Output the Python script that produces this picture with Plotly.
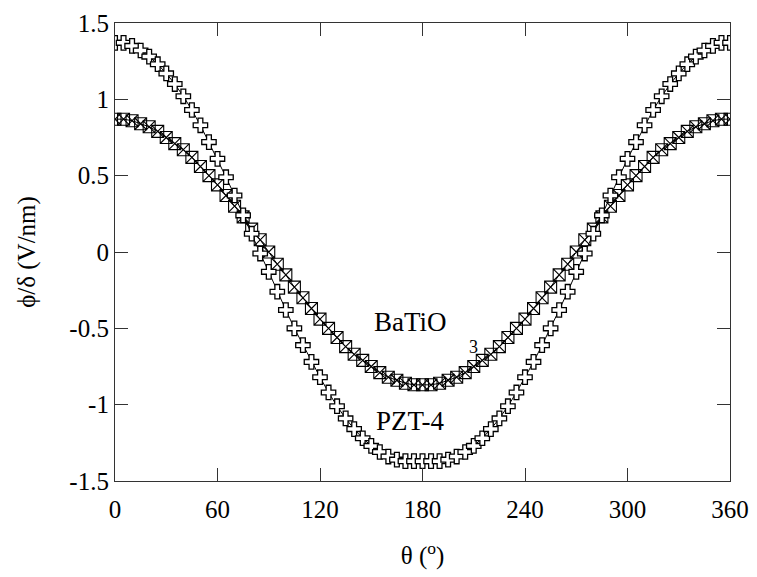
import plotly.graph_objects as go

theta = list(range(0, 361, 5))

pzt4 = [1.37, 1.37, 1.35, 1.32, 1.28, 1.23, 1.17, 1.10, 1.02, 0.93, 0.83, 0.72, 0.61,
        0.49, 0.37, 0.24, 0.12, -0.01, -0.13, -0.26, -0.38, -0.50, -0.61, -0.72, -0.82,
        -0.92, -1.01, -1.09, -1.16, -1.22, -1.27, -1.31, -1.34, -1.36, -1.37, -1.37, -1.37,
        -1.37, -1.37, -1.36, -1.34, -1.31, -1.27, -1.22, -1.16, -1.09, -1.01, -0.92, -0.82,
        -0.72, -0.61, -0.50, -0.38, -0.26, -0.13, -0.01, 0.12, 0.24, 0.37, 0.49, 0.61,
        0.72, 0.83, 0.93, 1.02, 1.10, 1.17, 1.23, 1.28, 1.32, 1.35, 1.37, 1.37]

batio3 = [0.87, 0.87, 0.86, 0.84, 0.82, 0.79, 0.75, 0.71, 0.67, 0.62, 0.56, 0.50, 0.44,
          0.37, 0.30, 0.23, 0.15, 0.08, 0.00, -0.08, -0.15, -0.23, -0.30, -0.37, -0.44,
          -0.50, -0.56, -0.62, -0.67, -0.71, -0.75, -0.79, -0.82, -0.84, -0.86, -0.87, -0.87,
          -0.87, -0.86, -0.84, -0.82, -0.79, -0.75, -0.71, -0.67, -0.62, -0.56, -0.50, -0.44,
          -0.37, -0.30, -0.23, -0.15, -0.08, 0.00, 0.08, 0.15, 0.23, 0.30, 0.37, 0.44,
          0.50, 0.56, 0.62, 0.67, 0.71, 0.75, 0.79, 0.82, 0.84, 0.86, 0.87, 0.87]

x_ticks = [0, 60, 120, 180, 240, 300, 360]
x_ticktext = ["0", "60", "120", "180", "240", "300", "360"]
y_ticks = [1.5, 1, 0.5, 0, -0.5, -1, -1.5]
y_ticktext = ["1.5", "1", "0.5", "0", "-0.5", "-1", "-1.5"]

FONT = "Liberation Serif"
FS = 25

fig = go.Figure()
fig.add_trace(go.Scatter(
    x=theta, y=batio3, mode="lines+markers", name="BaTiO3",
    line=dict(color="black", width=1),
    marker=dict(symbol="square-x-open", size=12, color="black", line=dict(width=1.1, color="black")),
))
fig.add_trace(go.Scatter(
    x=theta, y=pzt4, mode="lines+markers", name="PZT-4",
    line=dict(color="black", width=1),
    marker=dict(symbol="cross", size=12, color="white", line=dict(width=1.3, color="black")),
))

fig.update_layout(
    template="none",
    width=757, height=577,
    margin=dict(l=115, r=27, t=23, b=96),
    paper_bgcolor="white", plot_bgcolor="white",
    font=dict(family=FONT, size=FS, color="black"),
    showlegend=False,
    xaxis=dict(
        range=[0, 360], tickvals=x_ticks, ticktext=x_ticktext,
        showline=True, linecolor="#333", linewidth=1.2, mirror="ticks",
        ticks="inside", ticklen=13, tickwidth=1, tickcolor="#333",
        showgrid=False, zeroline=False, ticklabelstandoff=6,
        tickfont=dict(family=FONT, size=FS, color="black"),
        title=dict(text="θ (<sup>o</sup>)", font=dict(family=FONT, size=FS, color="black"), standoff=24),
    ),
    yaxis=dict(
        range=[-1.5, 1.5], tickvals=y_ticks, ticktext=y_ticktext,
        showline=True, linecolor="#333", linewidth=1.2, mirror="ticks",
        ticks="inside", ticklen=13, tickwidth=1, tickcolor="#333",
        showgrid=False, zeroline=False,
        tickfont=dict(family=FONT, size=FS, color="black"),
        title=dict(text="ϕ/δ (V/nm)", font=dict(family=FONT, size=FS, color="black"), standoff=26),
    ),
)

fig.add_annotation(x=173, y=-0.46, text="BaTiO", showarrow=False, xref="x", yref="y",
                   font=dict(family=FONT, size=27, color="black"))
fig.add_annotation(x=210, y=-0.62, text="3", showarrow=False, xref="x", yref="y",
                   font=dict(family=FONT, size=18, color="black"))
fig.add_annotation(x=173, y=-1.11, text="PZT-4", showarrow=False, xref="x", yref="y",
                   font=dict(family=FONT, size=27, color="black"))

fig.write_html("out.html")
